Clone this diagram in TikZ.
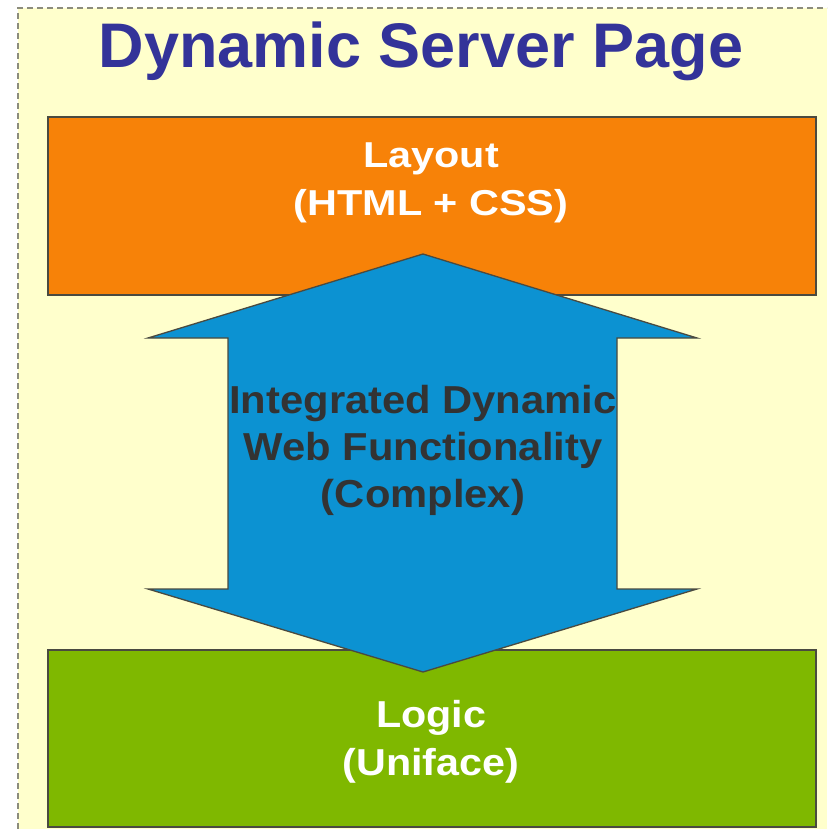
\documentclass[tikz,border=0pt]{standalone}
\usepackage{fontspec}
\setmainfont{Liberation Sans}
\newfontfamily\layoutfont{Liberation Sans}[FakeStretch=1.15]
\newfontfamily\midfont{Liberation Sans}[FakeStretch=1.07]
\newfontfamily\logicfont{Liberation Sans}[FakeStretch=1.1]
\definecolor{bgyellow}{HTML}{FFFFCC}
\definecolor{titleblue}{HTML}{333399}
\definecolor{boxorange}{HTML}{F78208}
\definecolor{boxgreen}{HTML}{7FB800}
\definecolor{arrowblue}{HTML}{0C92D2}
\definecolor{darktext}{HTML}{333333}
\definecolor{edgegray}{HTML}{4A4A40}
\definecolor{dashgray}{HTML}{8C8C7C}
\tikzset{
  panel/.style={draw=edgegray, line width=2pt},
  boxlabel/.style={text=white, align=center, anchor=base, inner sep=0pt},
}
\begin{document}
\begin{tikzpicture}[x=1pt, y=-1pt]
\useasboundingbox (0,0) rectangle (827,829);
% background
\fill[bgyellow] (18,8) rectangle (827,829);
\draw[dashgray, line width=1.2pt, dash pattern=on 6pt off 4pt] (18,829) -- (18,8) -- (827,8);
% title
\node[anchor=base, inner sep=0pt, text=titleblue, font=\fontsize{63}{70}\selectfont\bfseries] (title) at (421,68) {Dynamic Server Page};
% boxes
\node[panel, fill=boxorange, anchor=north west, minimum width=768pt, minimum height=178pt, inner sep=0pt] (layout) at (47,116) {};
\node[panel, fill=boxgreen, anchor=north west, minimum width=768pt, minimum height=177pt, inner sep=0pt] (logic) at (47,649) {};
% double arrow
\draw[fill=arrowblue, draw=edgegray, line width=1.3pt, line join=miter]
  (423,254) -- (697,338) -- (617,338) -- (617,589) -- (697,589) -- (423,672)
  -- (148,589) -- (228,589) -- (228,338) -- (148,338) -- cycle;
\coordinate (arrowtop) at (423,254);
\coordinate (arrowbottom) at (423,672);
% labels (base anchor = baseline of the last line)
\node[boxlabel, font=\layoutfont\fontsize{36}{48}\selectfont\bfseries] (layouttext) at (431,215) {Layout\\(HTML + CSS)};
\node[boxlabel, text=darktext, font=\midfont\fontsize{39}{47}\selectfont\bfseries] (midtext) at (423,507) {Integrated Dynamic\\Web Functionality\\(Complex)};
\node[boxlabel, font=\logicfont\fontsize{37.5}{48}\selectfont\bfseries] (logictext) at (431,775) {Logic\\(Uniface)};
\end{tikzpicture}
\end{document}
